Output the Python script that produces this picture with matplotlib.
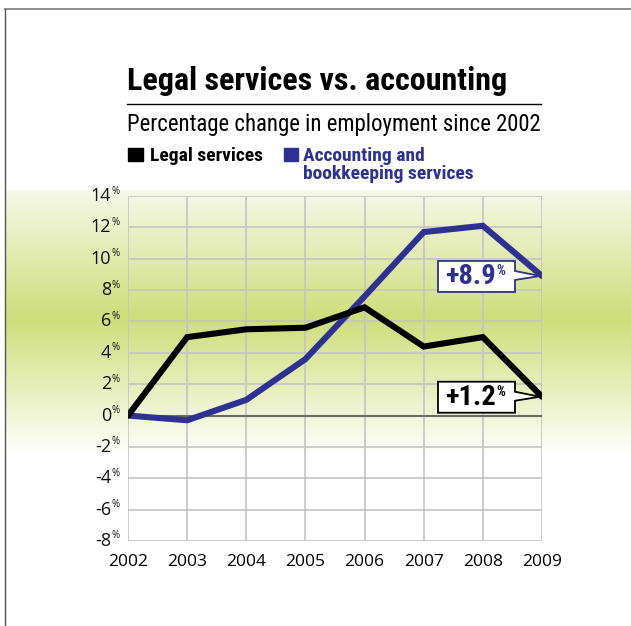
import matplotlib
matplotlib.use("Agg")
import matplotlib.pyplot as plt
import matplotlib.transforms as mtransforms
from matplotlib.patches import Rectangle, Polygon
from matplotlib.lines import Line2D
from matplotlib import font_manager
import numpy as np

# ---- data -------------------------------------------------------------
years = [2002, 2003, 2004, 2005, 2006, 2007, 2008, 2009]
legal = [0.0, 5.0, 5.5, 5.6, 6.9, 4.4, 5.0, 1.2]
accounting = [0.0, -0.3, 1.0, 3.6, 7.6, 11.7, 12.1, 8.9]
y_ticks = [-8, -6, -4, -2, 0, 2, 4, 6, 8, 10, 12, 14]

title = "Legal services vs. accounting"
subtitle = "Percentage change in employment since 2002"
legal_label = "Legal services"
acct_label = "Accounting and\nbookkeeping services"

BLUE = "#2e3192"
BLACK = "#000000"


def pick(cands):
    names = {f.name for f in font_manager.fontManager.ttflist}
    for c in cands:
        if c in names:
            return c
    return "DejaVu Sans"


NARROW = pick(["Liberation Sans Narrow", "DejaVu Sans Condensed", "Roboto Condensed", "Liberation Sans"])
BODY = pick(["Open Sans", "Lato", "Noto Sans", "DejaVu Sans"])

plt.rcParams["font.family"] = [BODY, "DejaVu Sans"]

W, H = 631, 626
fig = plt.figure(figsize=(W / 100, H / 100), dpi=100)
fig.patch.set_facecolor("white")

# ---- background band --------------------------------------------------
bg = fig.add_axes([5 / W, 0, 1 - 5 / W, 1], zorder=0)
bg.set_axis_off()
rows = np.arange(H)
stops_y = [0, 189, 190, 318, 455, H]
stops_c = np.array([
    [255, 255, 255],
    [255, 255, 255],
    [246, 248, 232],
    [206, 222, 122],
    [255, 255, 255],
    [255, 255, 255],
], dtype=float)
img = np.stack([np.interp(rows, stops_y, stops_c[:, k]) for k in range(3)], axis=-1) / 255.0
img = img[:, None, :].repeat(4, axis=1)
bg.imshow(img, aspect="auto", extent=[0, 1, 0, 1], origin="upper")
bg.set_xlim(0, 1)
bg.set_ylim(0, 1)

# page frame: top and left rule
fig.add_artist(Line2D([5 / W, 1], [1 - 9 / H, 1 - 9 / H], color="#7a7a7a", lw=1.2, transform=fig.transFigure, zorder=1))
fig.add_artist(Line2D([5 / W, 5 / W], [0, 1 - 9 / H], color="#555555", lw=1.0, transform=fig.transFigure, zorder=1))

# ---- main axes --------------------------------------------------------
ax = fig.add_axes([128 / W, 85 / H, 414 / W, 345 / H], zorder=2)
ax.patch.set_alpha(0)
ax.set_xlim(years[0], years[-1])
ax.set_ylim(y_ticks[0], y_ticks[-1])
for s in ax.spines.values():
    s.set_visible(False)

grid_c = "#c4c4c4"
for yv in y_ticks:
    ax.axhline(yv, color=grid_c, lw=1.2, zorder=1)
for xv in years:
    ax.axvline(xv, color=grid_c, lw=1.2, zorder=1)
ax.axhline(0, color="#6a6a60", lw=1.5, zorder=2)

ax.plot(years, legal, color=BLACK, lw=4.4, solid_joinstyle="miter", solid_capstyle="round", zorder=4)
ax.plot(years, accounting, color=BLUE, lw=4.4, solid_joinstyle="miter", solid_capstyle="round", zorder=3)

ax.set_xticks(years)
ax.set_xticklabels([str(y) for y in years], fontsize=12.5)
ax.set_yticks(y_ticks)
ax.set_yticklabels([])
ax.tick_params(length=0, pad=9)

# y labels with small raised percent sign
for yv in y_ticks:
    ax.annotate(f"{yv}", xy=(0, yv), xycoords=("axes fraction", "data"),
                xytext=(-17, 0), textcoords="offset pixels",
                ha="right", va="center", fontsize=13, color="#111111")
    ax.annotate("%", xy=(0, yv), xycoords=("axes fraction", "data"),
                xytext=(-16, 5), textcoords="offset pixels",
                ha="left", va="center", fontsize=7, color="#111111")


# ---- end-point callouts ----------------------------------------------
def callout(xv, yv, text, color):
    base = mtransforms.ScaledTranslation(xv, yv, ax.transData)
    trans = mtransforms.IdentityTransform() + base
    L, R, B, T = -104, -27, -16, 15
    pts = [(L, B), (R, B), (R, -4), (-2, 0), (R, 5), (R, T), (L, T)]
    ax.add_patch(Polygon(pts, closed=True, transform=trans, facecolor="white",
                         edgecolor=color, lw=1.3, zorder=6, clip_on=False))
    t = ax.annotate(text, xy=(xv, yv), xytext=(-97, -1), textcoords="offset pixels",
                    ha="left", va="center", fontsize=20.5, fontweight="bold",
                    color=color, family=[NARROW, "DejaVu Sans"], zorder=7)
    fig.canvas.draw()
    bb = t.get_window_extent()
    px, py = ax.transData.transform((xv, yv))
    ax.annotate("%", xy=(xv, yv), xytext=(bb.x1 - px + 1, 5), textcoords="offset pixels",
                ha="left", va="center", fontsize=10, fontweight="bold",
                color=color, family=[NARROW, "DejaVu Sans"], zorder=7)


callout(years[-1], accounting[-1], f"+{accounting[-1]:.1f}", BLUE)
callout(years[-1], legal[-1], f"+{legal[-1]:.1f}", BLACK)

# ---- headings --------------------------------------------------------
fig.text(127 / W, 1 - 81 / H, title, fontsize=23, fontweight="bold",
         family=[NARROW, "DejaVu Sans"], va="center", ha="left", zorder=5)
fig.add_artist(Line2D([127 / W, 541 / W], [1 - 104 / H, 1 - 104 / H], color="black", lw=1.0,
                      transform=fig.transFigure, zorder=5))
fig.text(127 / W, 1 - 124 / H, subtitle, fontsize=16.4,
         family=[NARROW, "DejaVu Sans"], va="center", ha="left", zorder=5)

# legend
fig.add_artist(Rectangle((128 / W, 1 - 161 / H), 15 / W, 13 / H, color=BLACK,
                         transform=fig.transFigure, zorder=5))
fig.text(150 / W, 1 - 156 / H, legal_label, fontsize=14, fontweight="bold",
         family=[NARROW, "DejaVu Sans"], va="center", ha="left", zorder=5)
fig.add_artist(Rectangle((284 / W, 1 - 161 / H), 14 / W, 13 / H, color=BLUE,
                         transform=fig.transFigure, zorder=5))
fig.text(303 / W, 1 - 147 / H, acct_label, fontsize=14, fontweight="bold", color=BLUE,
         family=[NARROW, "DejaVu Sans"], va="top", ha="left", linespacing=1.0, zorder=5)

fig.savefig("out.png", dpi=100)
